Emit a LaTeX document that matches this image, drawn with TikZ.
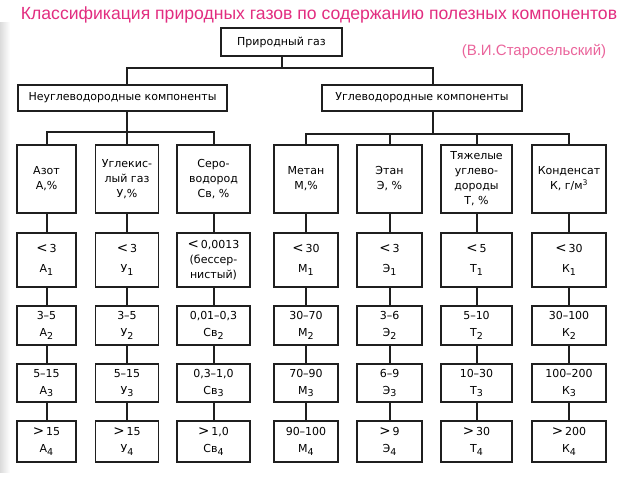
\documentclass[tikz,border=0pt]{standalone}
\usepackage{fontspec}
\setmainfont{DejaVu Sans}
\newfontfamily\titlefont{Liberation Sans}
\definecolor{titlec}{RGB}{226,45,128}
\definecolor{authc}{RGB}{234,100,155}
\newcommand\sbs[1]{\raisebox{-0.4ex}{\fontsize{9.5}{9.5}\selectfont #1}}
\newcommand\rlt{{\fontsize{13.5}{13.5}\selectfont<}\,}
\newcommand\rgt{{\fontsize{13.5}{13.5}\selectfont>}\,}
\tikzset{
  bx/.style={draw=black!88, line width=1.8pt, fill=white, inner sep=0pt, align=center,
    font=\fontsize{11}{15}\selectfont},
  ln/.style={draw=black!88, line width=2pt},
  hdr/.style={bx, minimum height=68pt},
  rowb/.style={bx, minimum height=54pt},
  rowc/.style={bx, minimum height=39pt, font=\fontsize{11}{17}\selectfont},
  rowd/.style={bx, minimum height=38pt, font=\fontsize{11}{17}\selectfont},
  rowe/.style={bx, minimum height=41pt, font=\fontsize{11}{17}\selectfont},
  two/.style={font=\fontsize{11}{20}\selectfont},
  wa/.style={minimum width=59pt}, wu/.style={minimum width=63pt}, ws/.style={minimum width=73pt},
  wm/.style={minimum width=64pt}, we/.style={minimum width=65pt}, wt/.style={minimum width=71pt},
  wk/.style={minimum width=74pt},
}
\begin{document}
\begin{tikzpicture}[x=1pt,y=-1pt]
\useasboundingbox (0,0) rectangle (640,480);
\fill[left color=black!14, right color=white] (0,22) rectangle (10,472);

\node[font=\titlefont\fontsize{17.6}{17.6}\selectfont, text=titlec] (title) at (319,15)
  {Классификация природных газов по содержанию полезных компонентов};
\node[font=\titlefont\fontsize{15}{15}\selectfont, text=authc] (auth) at (534,51)
  {(В.И.Старосельский)};

\node[bx, minimum width=121pt, minimum height=28pt] (top) at (281.5,42) {Природный газ};
\node[bx, minimum width=209pt, minimum height=26pt] (lb) at (122.5,98) {Неуглеводородные компоненты};
\node[bx, minimum width=200pt, minimum height=26pt] (rb) at (422,98) {Углеводородные компоненты};

% headers
\node[hdr,wa] (a1) at (46.5,179) {Азот\\А,\%};
\node[hdr,wu] (u1) at (127,179) {Углекис-\\лый газ\\У,\%};
\node[hdr,ws] (s1) at (213.5,179) {Серо-\\водород\\Св, \%};
\node[hdr,wm] (m1) at (306,179) {Метан\\М,\%};
\node[hdr,we] (e1) at (389.5,179) {Этан\\Э, \%};
\node[hdr,wt] (t1) at (476.5,179) {Тяжелые\\углево-\\дороды\\Т, \%};
\node[hdr,wk] (k1) at (569,179) {Конденсат\\К, г/м\textsuperscript{3}};

% row 2
\node[rowb,wa,two] (a2) at (46.5,260) {\rlt3\\А\sbs{1}};
\node[rowb,wu,two] (u2) at (127,260) {\rlt3\\У\sbs{1}};
\node[rowb,ws] (s2) at (213.5,260) {\rlt0,0013\\(бессер-\\нистый)};
\node[rowb,wm,two] (m2) at (306,260) {\rlt30\\М\sbs{1}};
\node[rowb,we,two] (e2) at (389.5,260) {\rlt3\\Э\sbs{1}};
\node[rowb,wt,two] (t2) at (476.5,260) {\rlt5\\Т\sbs{1}};
\node[rowb,wk,two] (k2) at (569,260) {\rlt30\\К\sbs{1}};

% row 3
\node[rowc,wa] (a3) at (46.5,325.5) {3–5\\А\sbs{2}};
\node[rowc,wu] (u3) at (127,325.5) {3–5\\У\sbs{2}};
\node[rowc,ws] (s3) at (213.5,325.5) {0,01–0,3\\Св\sbs{2}};
\node[rowc,wm] (m3) at (306,325.5) {30–70\\М\sbs{2}};
\node[rowc,we] (e3) at (389.5,325.5) {3–6\\Э\sbs{2}};
\node[rowc,wt] (t3) at (476.5,325.5) {5–10\\Т\sbs{2}};
\node[rowc,wk] (k3) at (569,325.5) {30–100\\К\sbs{2}};

% row 4
\node[rowd,wa] (a4) at (46.5,383) {5–15\\А\sbs{3}};
\node[rowd,wu] (u4) at (127,383) {5–15\\У\sbs{3}};
\node[rowd,ws] (s4) at (213.5,383) {0,3–1,0\\Св\sbs{3}};
\node[rowd,wm] (m4) at (306,383) {70–90\\М\sbs{3}};
\node[rowd,we] (e4) at (389.5,383) {6–9\\Э\sbs{3}};
\node[rowd,wt] (t4) at (476.5,383) {10–30\\Т\sbs{3}};
\node[rowd,wk] (k4) at (569,383) {100–200\\К\sbs{3}};

% row 5
\node[rowe,wa] (a5) at (46.5,441.5) {\rgt15\\А\sbs{4}};
\node[rowe,wu] (u5) at (127,441.5) {\rgt15\\У\sbs{4}};
\node[rowe,ws] (s5) at (213.5,441.5) {\rgt1,0\\Св\sbs{4}};
\node[rowe,wm] (m5) at (306,441.5) {90–100\\М\sbs{4}};
\node[rowe,we] (e5) at (389.5,441.5) {\rgt9\\Э\sbs{4}};
\node[rowe,wt] (t5) at (476.5,441.5) {\rgt30\\Т\sbs{4}};
\node[rowe,wk] (k5) at (569,441.5) {\rgt200\\К\sbs{4}};

% connectors
\coordinate (hL) at (127,68);
\coordinate (hR) at (433,68);
\draw[ln] (top.south) -- (top.south |- hL);
\draw[ln] (lb.north -| hL) -- (hL) -- (hR) -- (rb.north -| hR);

\coordinate (gL) at (127,132);
\draw[ln] (lb.south -| gL) -- (gL) -- (u1.north);
\draw[ln] (a1.north) -- (a1.north |- gL) -- (s1.north |- gL) -- (s1.north);

\coordinate (gR) at (433,134);
\draw[ln] (rb.south -| gR) -- (gR);
\draw[ln] (m1.north) -- (m1.north |- gR) -- (k1.north |- gR) -- (k1.north);
\draw[ln] (e1.north) -- (e1.north |- gR);
\draw[ln] (t1.north) -- (t1.north |- gR);

\foreach \c in {a,u,s,m,e,t,k}{
  \draw[ln] (\c1.south) -- (\c2.north);
  \draw[ln] (\c2.south) -- (\c3.north);
  \draw[ln] (\c3.south) -- (\c4.north);
  \draw[ln] (\c4.south) -- (\c5.north);
}
\end{tikzpicture}
\end{document}
